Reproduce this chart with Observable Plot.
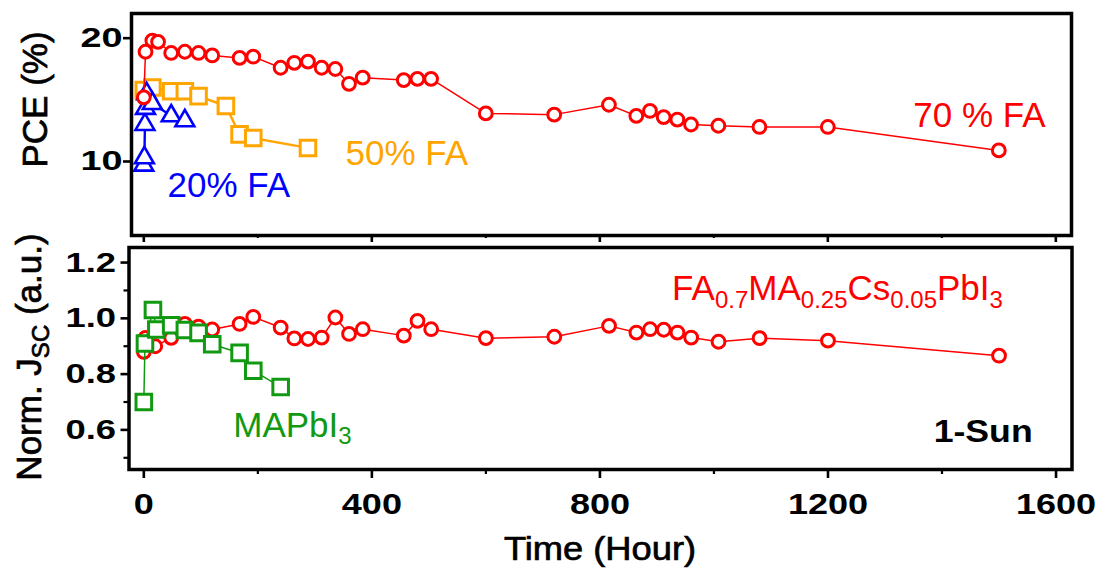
<!DOCTYPE html>
<html>
<head>
<meta charset="utf-8">
<script src="https://cdn.jsdelivr.net/npm/d3@7"></script>
<script src="https://cdn.jsdelivr.net/npm/@observablehq/plot@0.6"></script>
<style>
  body { margin: 0; background: #fff; }
  #chart { width: 1099px; height: 568px; position: relative; overflow: hidden; background: #fff; }
  #chart svg { display: block; overflow: visible; }
</style>
</head>
<body>
<div id="chart"></div>
<script>
// ---- PCE vs. time (top panel) ----
const fa70Time = [0, 3, 15, 25, 48, 72, 96, 120, 168, 192, 240, 264, 288, 312, 336, 360, 384, 456, 480, 504, 600, 720, 816, 864, 888, 912, 936, 960, 1008, 1080, 1200, 1500];
const fa70Pce  = [15.2, 18.9, 19.8, 19.7, 18.8, 18.9, 18.8, 18.6, 18.4, 18.5, 17.6, 18.0, 18.1, 17.6, 17.5, 16.3, 16.8, 16.6, 16.7, 16.7, 13.9, 13.8, 14.6, 13.7, 14.1, 13.6, 13.4, 13.0, 12.9, 12.8, 12.8, 10.9];
const fa50Time = [0, 15, 48, 72, 96, 144, 168, 192, 288];
const fa50Pce  = [15.8, 16.0, 15.7, 15.7, 15.3, 14.5, 12.2, 11.9, 11.1];
const fa20Time = [0, 1, 2, 3, 5, 15, 48, 72];
const fa20Pce  = [9.7, 10.3, 13.0, 14.3, 15.5, 14.7, 13.7, 13.3];

// ---- normalised Jsc vs. time (bottom panel) ----
const csTime = [0, 3, 20, 48, 72, 96, 120, 168, 192, 240, 264, 288, 312, 336, 360, 384, 456, 480, 504, 600, 720, 816, 864, 888, 912, 936, 960, 1008, 1080, 1200, 1500];
const csJsc  = [0.88, 0.93, 0.90, 0.93, 0.98, 0.97, 0.96, 0.98, 1.005, 0.967, 0.928, 0.926, 0.931, 1.003, 0.944, 0.961, 0.938, 0.991, 0.961, 0.929, 0.934, 0.973, 0.949, 0.961, 0.959, 0.949, 0.931, 0.916, 0.929, 0.920, 0.866];
const mapiTime = [0, 2, 16, 22, 48, 72, 96, 120, 168, 192, 240];
const mapiJsc  = [0.70, 0.91, 1.03, 0.96, 0.975, 0.958, 0.948, 0.907, 0.876, 0.812, 0.754];

// ---- ticks ----
const xMajor = [0, 400, 800, 1200, 1600];
const xMinor = [200, 600, 1000, 1400];
const pceTicks = [10, 20];
const jscTicks = [0.6, 0.8, 1.0, 1.2];
const jscMinor = [0.5, 0.7, 0.9, 1.1];

const RED = "#ff0000", ORANGE = "#ffa500", BLUE = "#0000ff", GREEN = "#119a11";
const FONT = "'Liberation Sans', Arial, Helvetica, sans-serif";

const rows = (t, v) => t.map((d, i) => ({t: d, v: v[i]}));
const fmt = d => d.toFixed(1);

// widen text glyphs horizontally around their anchor
function stretchNodes(nodes, s) {
  nodes.forEach(t => {
    const x = parseFloat(t.getAttribute("x")) || 0;
    const tr = t.getAttribute("transform") || "";
    t.setAttribute("transform", `${tr} translate(${x},0) scale(${s},1) translate(${-x},0)`);
  });
}
const stretch = (svg, selector, s) => stretchNodes(svg.querySelectorAll(selector), s);

// text with subscripted runs: parts = [[string, isSub], ...]
function richText(svg, x, y, parts, {size = 35, sub = 24, shift = 8, fill = "black", anchor = "start", rotate = 0, weight = "normal", thicken = 0} = {}) {
  const t = d3.select(svg).append("text")
    .attr("transform", `translate(${x},${y}) rotate(${rotate})`)
    .attr("text-anchor", anchor)
    .attr("fill", fill)
    .attr("font-family", FONT)
    .attr("font-weight", weight)
    .attr("font-size", size);
  if (thicken) t.attr("stroke", fill).attr("stroke-width", thicken);
  let down = false;
  for (const [s, isSub] of parts) {
    const ts = t.append("tspan").text(s);
    if (isSub && !down) { ts.attr("dy", shift).attr("font-size", sub); down = true; }
    else if (isSub) { ts.attr("font-size", sub); }
    else if (down) { ts.attr("dy", -shift); down = false; }
  }
  return t;
}

const chart = document.getElementById("chart");

// ---------------- top panel: PCE ----------------
const topPlot = Plot.plot({
  width: 1099,
  height: 243,
  marginTop: 13,
  marginBottom: 8,
  marginLeft: 131,
  marginRight: 28,
  x: {domain: [-21.6, 1627.5], label: null},
  y: {domain: [4, 22], label: null},
  style: {fontFamily: FONT, fontSize: "28px", background: "white", overflow: "visible", color: "black"},
  marks: [
    Plot.line(rows(fa50Time, fa50Pce), {x: "t", y: "v", stroke: ORANGE, strokeWidth: 2.4}),
    Plot.dot(rows(fa50Time, fa50Pce), {x: "t", y: "v", symbol: "square", r: 8.8, stroke: ORANGE, fill: "white", strokeWidth: 3}),
    Plot.line(rows(fa20Time, fa20Pce), {x: "t", y: "v", stroke: BLUE, strokeWidth: 2.4}),
    Plot.dot(rows(fa20Time, fa20Pce), {x: "t", y: "v", symbol: "triangle", r: 7, stroke: BLUE, fill: "white", strokeWidth: 2.6}),
    Plot.line(rows(fa70Time, fa70Pce), {x: "t", y: "v", stroke: RED, strokeWidth: 1.5}),
    Plot.dot(rows(fa70Time, fa70Pce), {x: "t", y: "v", r: 6.4, stroke: RED, fill: "white", strokeWidth: 3}),
    Plot.text(["70 % FA"], {x: 1350, y: 12.83, text: d => d, fill: RED, fontSize: 35, textAnchor: "start", lineAnchor: "bottom"}),
    Plot.text(["50% FA"], {x: 354, y: 9.73, text: d => d, fill: ORANGE, fontSize: 35, textAnchor: "start", lineAnchor: "bottom"}),
    Plot.text(["20% FA"], {x: 41.6, y: 7.11, text: d => d, fill: BLUE, fontSize: 35, textAnchor: "start", lineAnchor: "bottom"}),
    Plot.axisY(pceTicks, {tickSize: 8, tickPadding: 1, strokeWidth: 2.6, fontSize: 28, fontWeight: "bold", label: null, tickFormat: d => String(d)}),
    Plot.axisX(xMajor, {anchor: "bottom", tickSize: 7, strokeWidth: 2.6, tickFormat: () => "", label: null}),
    Plot.axisX(xMinor, {anchor: "bottom", tickSize: 3, strokeWidth: 2.2, tickFormat: () => "", label: null}),
    Plot.frame({stroke: "black", strokeWidth: 3.5})
  ]
});
chart.appendChild(topPlot);
stretch(topPlot, '[aria-label="y-axis tick label"] text', 1.35);
richText(topPlot, 47, 99.5, [["PCE (%)", false]], {size: 35, anchor: "middle", rotate: -90, thicken: 0.7});

// ---------------- bottom panel: normalised Jsc ----------------
const botPlot = Plot.plot({
  width: 1099,
  height: 325,
  marginTop: 4,
  marginBottom: 99,
  marginLeft: 128.5,
  marginRight: 27.5,
  x: {domain: [-26, 1628], label: null},
  y: {domain: [0.458, 1.254], label: null},
  style: {fontFamily: FONT, fontSize: "28px", background: "white", overflow: "visible", color: "black"},
  marks: [
    Plot.line(rows(csTime, csJsc), {x: "t", y: "v", stroke: RED, strokeWidth: 1.5}),
    Plot.dot(rows(csTime, csJsc), {x: "t", y: "v", r: 6.4, stroke: RED, fill: "white", strokeWidth: 3}),
    Plot.line(rows(mapiTime, mapiJsc), {x: "t", y: "v", stroke: GREEN, strokeWidth: 1.5}),
    Plot.dot(rows(mapiTime, mapiJsc), {x: "t", y: "v", symbol: "square", r: 8.8, stroke: GREEN, fill: "white", strokeWidth: 3}),
    Plot.text(["1-Sun"], {x: 1559, y: 0.555, text: d => d, fill: "black", fontSize: 31, fontWeight: "bold", textAnchor: "end", lineAnchor: "bottom"}),
    Plot.axisY(jscTicks, {tickSize: 8, tickPadding: 5, strokeWidth: 2.6, fontSize: 28, fontWeight: "bold", label: null, tickFormat: fmt}),
    Plot.axisY(jscMinor, {tickSize: 5, strokeWidth: 2.2, tickFormat: () => "", label: null}),
    Plot.axisX(xMajor, {anchor: "bottom", tickSize: 9, tickPadding: 14, strokeWidth: 2.6, fontSize: 30, fontWeight: "bold", label: null, tickFormat: d => String(d)}),
    Plot.axisX(xMinor, {anchor: "bottom", tickSize: 5, strokeWidth: 2.2, tickFormat: () => "", label: null}),
    Plot.frame({stroke: "black", strokeWidth: 3.5})
  ]
});
chart.appendChild(botPlot);
stretch(botPlot, '[aria-label="y-axis tick label"] text', 1.3);
stretch(botPlot, '[aria-label="x-axis tick label"] text', 1.2);
stretchNodes([...botPlot.querySelectorAll("text")].filter(t => t.textContent === "1-Sun"), 1.15);

const bx = botPlot.scale("x"), by = botPlot.scale("y");
richText(botPlot, bx.apply(927.5), by.apply(1.064),
  [["FA", false], ["0.7", true], ["MA", false], ["0.25", true], ["Cs", false], ["0.05", true], ["PbI", false], ["3", true]],
  {size: 35, sub: 24, shift: 8, fill: RED});
richText(botPlot, bx.apply(157.7), by.apply(0.573), [["MAPbI", false], ["3", true]],
  {size: 35, sub: 24, shift: 7, fill: GREEN});
richText(botPlot, 41, 114, [["Norm. J", false], ["SC", true], [" (a.u.)", false]],
  {size: 35, sub: 24, shift: 8, anchor: "middle", rotate: -90, thicken: 0.7});
const timeLabel = richText(botPlot, 600, 317, [["Time (Hour)", false]], {size: 33, anchor: "middle", thicken: 0.7});
timeLabel.attr("transform", "translate(600,317) scale(1.1,1)");
</script>
</body>
</html>
